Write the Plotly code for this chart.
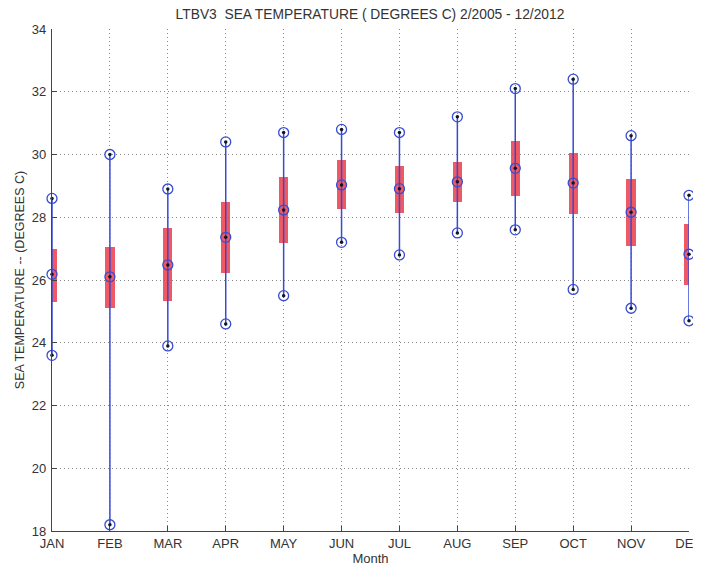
import plotly.graph_objects as go

months = ["JAN", "FEB", "MAR", "APR", "MAY", "JUN", "JUL", "AUG", "SEP", "OCT", "NOV", "DEC"]
t_max = [28.6, 30.0, 28.9, 30.4, 30.7, 30.8, 30.7, 31.2, 32.1, 32.4, 30.6, 28.7]
t_q3 = [27.0, 27.06, 27.67, 28.5, 29.29, 29.82, 29.63, 29.77, 30.43, 30.04, 29.22, 27.78]
t_med = [26.18, 26.1, 26.48, 27.36, 28.23, 29.03, 28.91, 29.13, 29.56, 29.09, 28.16, 26.82]
t_q1 = [25.31, 25.1, 25.34, 26.21, 27.17, 28.25, 28.15, 28.5, 28.69, 28.1, 27.09, 25.83]
t_min = [23.6, 18.2, 23.9, 24.6, 25.5, 27.2, 26.8, 27.5, 27.6, 25.7, 25.1, 24.7]
y_ticks = [18, 20, 22, 24, 26, 28, 30, 32, 34]

xpos = list(range(1, len(months) + 1))
BLUE = "rgb(55,75,210)"
FONT = "Liberation Sans, Arial, sans-serif"

# page body has an 8px margin, so the figure is sized to fill the rest of the window
W, H = 693, 559

fig = go.Figure()

# whiskers
wx, wy = [], []
for x, lo, hi in zip(xpos, t_min, t_max):
    wx += [x, x, None]
    wy += [lo, hi, None]
fig.add_trace(go.Scatter(x=wx, y=wy, mode="lines", line=dict(color=BLUE, width=1.5),
                         hoverinfo="skip", showlegend=False))

# boxes
fig.add_trace(go.Bar(x=xpos, y=[h - l for h, l in zip(t_q3, t_q1)], base=t_q1, width=0.16,
                     marker=dict(color="rgba(236,60,72,0.85)", line=dict(width=0)),
                     cliponaxis=False, showlegend=False))

# extreme markers and median
mx = xpos + xpos + xpos
my = t_min + t_max + t_med
fig.add_trace(go.Scatter(x=mx, y=my, mode="markers", cliponaxis=False,
                         marker=dict(symbol="circle-open", size=10, color=BLUE,
                                     line=dict(width=1.3, color=BLUE)),
                         showlegend=False))
fig.add_trace(go.Scatter(x=mx, y=my, mode="markers", cliponaxis=False,
                         marker=dict(symbol="circle", size=3.5, color="rgb(20,20,40)"),
                         showlegend=False))

GRID = dict(showgrid=True, gridcolor="#888", griddash="1px,3px", gridwidth=1)

fig.update_layout(
    width=W, height=H,
    margin=dict(l=44, r=12, t=21, b=36),
    paper_bgcolor="white", plot_bgcolor="white",
    font=dict(family=FONT, size=13, color="#333"),
    bargap=0,
    title=dict(text="LTBV3  SEA TEMPERATURE ( DEGREES C) 2/2005 - 12/2012",
               x=362 / W, xanchor="center", xref="container",
               y=1 - 6 / H, yanchor="middle",
               font=dict(family=FONT, size=13.8, color="#333")),
    xaxis=dict(range=[1, 12], tickmode="array", tickvals=xpos, ticktext=months,
               showline=True, linecolor="#444", linewidth=1.2, mirror=False,
               ticks="inside", ticklen=5, tickcolor="#444",
               zeroline=False, automargin=False, ticklabeloverflow="allow",
               title=dict(text="Month", standoff=1, font=dict(size=13)),
               tickfont=dict(size=13), **GRID),
    yaxis=dict(range=[18, 34], tickmode="array", tickvals=y_ticks,
               showline=True, linecolor="#444", linewidth=1.2, mirror=False,
               ticks="inside", ticklen=5, tickcolor="#444",
               zeroline=False, automargin=False, ticklabelstandoff=2,
               title=dict(text="SEA TEMPERATURE -- (DEGREES C)", standoff=4, font=dict(size=12.5)),
               tickfont=dict(size=13), **GRID),
)

fig.write_html("out.html")
